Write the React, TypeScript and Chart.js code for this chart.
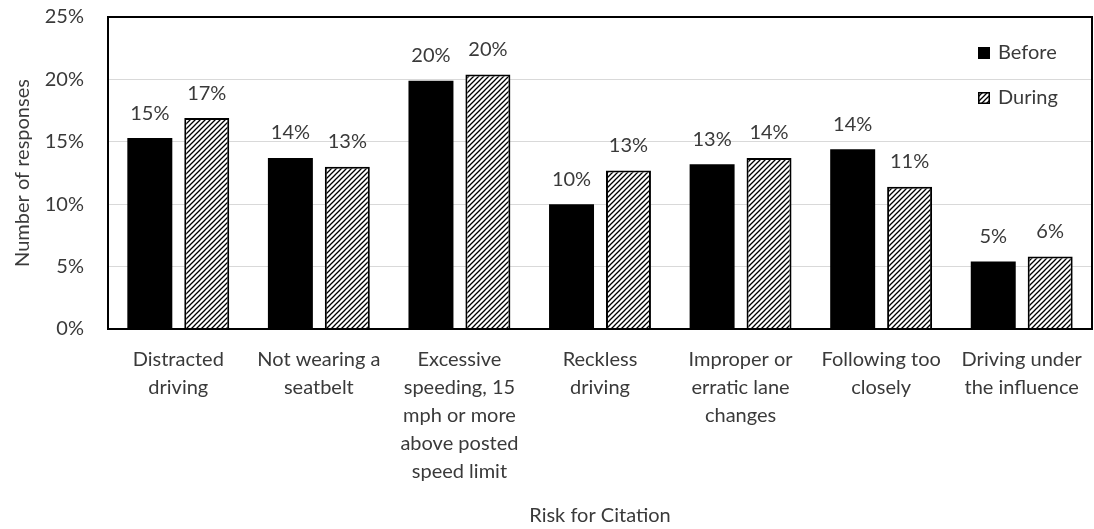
import React, { useEffect, useRef } from 'react';
import { Chart, registerables } from 'chart.js';

Chart.register(...registerables);

const categories: string[][] = [
  ['Distracted', 'driving'],
  ['Not wearing a', 'seatbelt'],
  ['Excessive', 'speeding, 15', 'mph or more', 'above posted', 'speed limit'],
  ['Reckless', 'driving'],
  ['Improper or', 'erratic lane', 'changes'],
  ['Following too', 'closely'],
  ['Driving under', 'the influence'],
];
const seriesNames = ['Before', 'During'];
const beforeValues = [15.3, 13.7, 19.9, 10.0, 13.2, 14.4, 5.4];
const duringValues = [16.9, 13.0, 20.4, 12.7, 13.7, 11.4, 5.8];
const yMin = 0;
const yMax = 25;
const yStep = 5;
const xTitle = 'Risk for Citation';
const yTitle = 'Number of responses';

const FONT = 'Lato';
const TEXT = '#3a3a3a';

function makeHatch(ctx: CanvasRenderingContext2D): CanvasPattern | string {
  const c = document.createElement('canvas');
  const s = 5;
  c.width = s;
  c.height = s;
  const g = c.getContext('2d');
  if (!g) return '#888';
  g.fillStyle = '#ffffff';
  g.fillRect(0, 0, s, s);
  g.strokeStyle = '#000000';
  g.lineWidth = 1.3;
  g.beginPath();
  g.moveTo(-1, s + 1);
  g.lineTo(s + 1, -1);
  g.moveTo(-1, 1);
  g.lineTo(1, -1);
  g.moveTo(s - 1, s + 1);
  g.lineTo(s + 1, s - 1);
  g.stroke();
  return ctx.createPattern(c, 'repeat') || '#888';
}

export default function App() {
  const ref = useRef<HTMLCanvasElement | null>(null);

  useEffect(() => {
    const canvas = ref.current;
    if (!canvas) return;
    const ctx = canvas.getContext('2d');
    if (!ctx) return;
    const hatch = makeHatch(ctx);

    const overlay = {
      id: 'overlay',
      afterDatasetsDraw(chart: any) {
        const c = chart.ctx;
        const area = chart.chartArea;
        // data labels
        c.save();
        c.font = `20px ${FONT}`;
        c.fillStyle = TEXT;
        c.textAlign = 'center';
        c.textBaseline = 'middle';
        chart.data.datasets.forEach((ds: any, i: number) => {
          const meta = chart.getDatasetMeta(i);
          meta.data.forEach((bar: any, j: number) => {
            const v = ds.data[j];
            c.fillText(`${Math.round(v)}%`, bar.x, bar.y - 25);
          });
        });
        c.restore();
        // plot border
        c.save();
        c.strokeStyle = '#000';
        c.lineWidth = 2;
        c.strokeRect(area.left, area.top, area.right - area.left, area.bottom - area.top);
        c.restore();
        // legend
        c.save();
        const items = [
          { label: seriesNames[0], fill: '#000', border: false, dy: 30 },
          { label: seriesNames[1], fill: hatch, border: true, dy: 75 },
        ];
        items.forEach((it) => {
          const sx = area.right - 114;
          const sy = area.top + it.dy;
          c.fillStyle = it.fill as any;
          c.fillRect(sx, sy, 12, 12);
          if (it.border) {
            c.strokeStyle = '#000';
            c.lineWidth = 1.5;
            c.strokeRect(sx + 0.75, sy + 0.75, 10.5, 10.5);
          }
          c.fillStyle = TEXT;
          c.font = `20px ${FONT}`;
          c.textAlign = 'left';
          c.textBaseline = 'middle';
          c.fillText(it.label, area.right - 94, sy + 6);
        });
        c.restore();
      },
    };

    const chart = new Chart(canvas, {
      type: 'bar',
      data: {
        labels: categories,
        datasets: [
          {
            label: seriesNames[0],
            data: beforeValues,
            backgroundColor: '#000000',
            borderWidth: 0,
            categoryPercentage: 0.81,
            barPercentage: 0.79,
          },
          {
            label: seriesNames[1],
            data: duringValues,
            backgroundColor: hatch as any,
            borderColor: '#000000',
            borderWidth: 2,
            categoryPercentage: 0.81,
            barPercentage: 0.79,
          },
        ],
      },
      options: {
        animation: false,
        responsive: true,
        maintainAspectRatio: false,
        layout: { autoPadding: false, padding: { top: 17, right: 2, left: 0, bottom: 0 } },
        plugins: {
          legend: { display: false },
          tooltip: { enabled: false },
        },
        scales: {
          x: {
            grid: { display: false, drawTicks: false },
            border: { display: false },
            ticks: {
              color: TEXT,
              font: { family: FONT, size: 20, lineHeight: 1.4 },
              padding: 17,
              maxRotation: 0,
              minRotation: 0,
              autoSkip: false,
            },
            title: {
              display: true,
              text: xTitle,
              color: TEXT,
              font: { family: FONT, size: 20, lineHeight: 1.2 },
              padding: { top: 0, bottom: 1 },
            },
            afterFit: (scale: any) => {
              scale.height = 200;
              scale.paddingLeft = 0;
              scale.paddingRight = 0;
            },
          },
          y: {
            min: yMin,
            max: yMax,
            grid: { color: '#d9d9d9', lineWidth: 1, drawTicks: false },
            border: { display: false },
            ticks: {
              stepSize: yStep,
              color: TEXT,
              font: { family: FONT, size: 20 },
              padding: 24,
              callback: (v: any) => `${v}%`,
            },
            title: {
              display: true,
              text: yTitle,
              color: TEXT,
              font: { family: FONT, size: 20, lineHeight: 1.2 },
              padding: { top: 11, bottom: 0 },
            },
            afterFit: (scale: any) => {
              scale.width = 108;
              scale.paddingTop = 0;
              scale.paddingBottom = 0;
            },
          },
        },
      },
      plugins: [overlay],
    });

    return () => chart.destroy();
  }, []);

  return (
    <div style={{ position: 'absolute', left: 0, top: 0, width: 1094, height: 529, background: '#fff' }}>
      <canvas ref={ref} />
    </div>
  );
}
